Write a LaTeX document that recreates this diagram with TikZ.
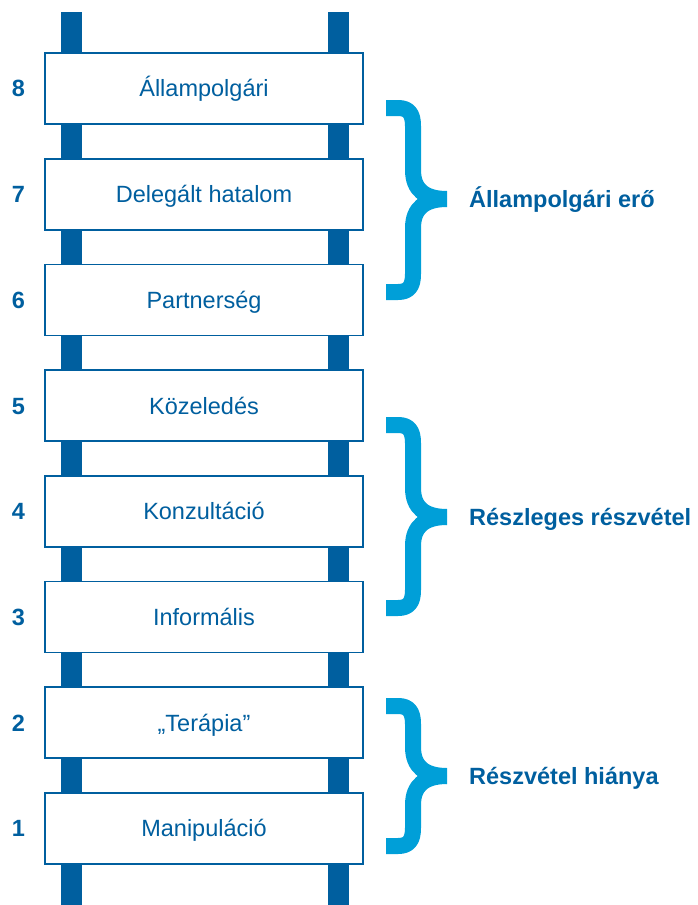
\documentclass[tikz,border=0pt]{standalone}
\usepackage{fontspec}
\setmainfont{Liberation Sans}
\usepackage{xcolor}
\usepackage{tikz}
\usetikzlibrary{positioning}

\definecolor{sotetkek}{HTML}{005F9F}
\definecolor{vilagoskek}{HTML}{009FD8}

\tikzset{
  fok/.style={draw=sotetkek, line width=1.6pt, fill=white, inner sep=0pt,
    minimum width=318pt, minimum height=71pt, text=sotetkek,
    text height=21pt, text depth=4.2pt,
    font=\fontsize{23.5}{28}\selectfont},
  szam/.style={text=sotetkek, inner sep=0pt, text height=21pt, text depth=4.2pt,
    font=\fontsize{23.5}{28}\selectfont\bfseries},
  csoport/.style={text=sotetkek, inner sep=0pt, anchor=west,
    text height=21pt, text depth=4.2pt,
    font=\fontsize{23.5}{28}\selectfont\bfseries},
  kapocs/.style={draw=vilagoskek, line width=16pt, line cap=butt, line join=round}
}

\begin{document}
\begin{tikzpicture}[x=1pt,y=-1pt]
        \useasboundingbox (0,0) rectangle (697,905);

        % Letra oldalai
        \fill[sotetkek] (61,12) rectangle (82,905);
        \fill[sotetkek] (328,12) rectangle (349,905);

        % Fokok
        \node[fok] (f8) at (204,88.5){Állampolgári};
        \node[fok] (f7) at (204,194.2){Delegált hatalom};
        \node[fok] (f6) at (204,299.9){Partnerség};
        \node[fok] (f5) at (204,405.6){Közeledés};
        \node[fok] (f4) at (204,511.3){Konzultáció};
        \node[fok] (f3) at (204,617.0){Informális};
        \node[fok] (f2) at (204,722.7){„Terápia”};
        \node[fok] (f1) at (204,828.4){Manipuláció};

        % Sorszamok
        \node[szam, left=19pt of f8] (n8){8};
        \node[szam, left=19pt of f7] (n7){7};
        \node[szam, left=19pt of f6] (n6){6};
        \node[szam, left=19pt of f5] (n5){5};
        \node[szam, left=19pt of f4] (n4){4};
        \node[szam, left=19pt of f3] (n3){3};
        \node[szam, left=19pt of f2] (n2){2};
        \node[szam, left=19pt of f1] (n1){1};

        % Kapcsok
        \draw[kapocs] (386,108)--(398,108) .. controls (409,108) and (413,114) .. (413,126)
          --(413,170) .. controls (413,190) and (425,199) .. (447,199);
        \draw[kapocs] (386,292)--(398,292) .. controls (409,292) and (413,286) .. (413,274)
          --(413,228) .. controls (413,208) and (425,199) .. (447,199);
        \coordinate (c1) at (447,199);

        \draw[kapocs] (386,425)--(398,425) .. controls (409,425) and (413,431) .. (413,443)
          --(413,488) .. controls (413,508) and (425,517) .. (447,517);
        \draw[kapocs] (386,608)--(398,608) .. controls (409,608) and (413,602) .. (413,590)
          --(413,546) .. controls (413,526) and (425,517) .. (447,517);
        \coordinate (c2) at (447,517);

        \draw[kapocs] (386,706)--(398,706) .. controls (409,706) and (413,712) .. (413,724)
          --(413,747) .. controls (413,767) and (425,776) .. (447,776);
        \draw[kapocs] (386,846)--(398,846) .. controls (409,846) and (413,840) .. (413,828)
          --(413,805) .. controls (413,785) and (425,776) .. (447,776);
        \coordinate (c3) at (447,776);

        % Csoportok
        \node[csoport, right=22pt of c1] (g1){Állampolgári erő};
        \node[csoport, right=22pt of c2] (g2){Részleges részvétel};
        \node[csoport, right=22pt of c3] (g3){Részvétel hiánya};
      \end{tikzpicture}
\end{document}
